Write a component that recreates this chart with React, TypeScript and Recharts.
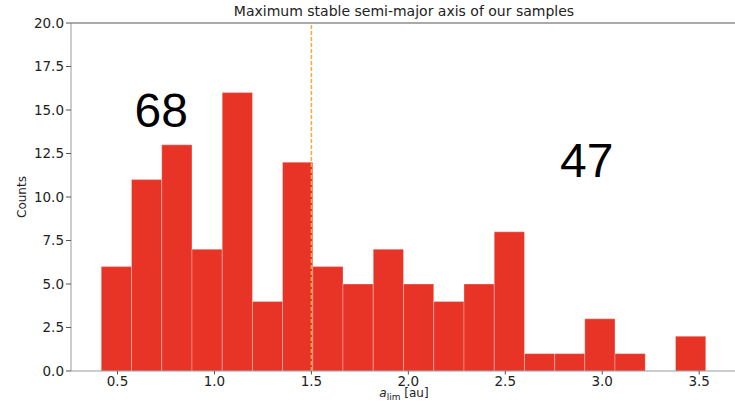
import React from "react";
import {
  ComposedChart,
  Line,
  XAxis,
  YAxis,
  ReferenceArea,
  ReferenceLine,
  ReferenceDot,
} from "recharts";

// histogram bin edges (au) and counts per bin
const binEdges = [
  0.416, 0.572, 0.728, 0.884, 1.04, 1.196, 1.351, 1.507, 1.663, 1.819, 1.975,
  2.131, 2.287, 2.443, 2.599, 2.755, 2.91, 3.066, 3.222, 3.378, 3.534,
];
const counts = [6, 11, 13, 7, 16, 4, 12, 6, 5, 7, 5, 4, 5, 8, 1, 1, 3, 1, 0, 2];

const xTicks = [0.5, 1.0, 1.5, 2.0, 2.5, 3.0, 3.5];
const yTicks = [0, 2.5, 5, 7.5, 10, 12.5, 15, 17.5, 20];

const cutoff = 1.5;
const annotations = [
  { x: 0.725, y: 14.03, text: "68" },
  { x: 2.92, y: 11.16, text: "47" },
];

const BAR = "#e83426";
const FONT = "DejaVu Sans, sans-serif";

const bins = counts.map((c, i) => ({
  x0: binEdges[i],
  x1: binEdges[i + 1],
  mid: (binEdges[i] + binEdges[i + 1]) / 2,
  count: c,
}));

export default function App() {
  return (
    <div
      style={{
        position: "absolute",
        left: 0,
        top: 0,
        width: 735,
        height: 409,
        overflow: "hidden",
        background: "#fff",
      }}
    >
      <div
        style={{
          position: "absolute",
          left: 0,
          top: 3,
          width: 808,
          textAlign: "center",
          fontFamily: FONT,
          fontSize: 14,
          color: "#222",
          lineHeight: "16px",
        }}
      >
        Maximum stable semi-major axis of our samples
      </div>
      <ComposedChart
        width={740}
        height={409}
        data={bins}
        margin={{ top: 23, right: 4, bottom: 0, left: 0 }}
      >
        <XAxis
          dataKey="mid"
          type="number"
          domain={[0.26, 3.69]}
          ticks={xTicks}
          tickFormatter={(v) => v.toFixed(1)}
          allowDataOverflow
          height={38}
          stroke="#999"
          tickLine={{ stroke: "#555" }}
          tickSize={3.5}
          tickMargin={2}
          tick={{ fill: "#222", fontSize: 13.5, fontFamily: FONT }}
          label={{
            content: () => (
              <text
                x={404}
                y={397}
                textAnchor="middle"
                fontFamily={FONT}
                fontSize={12}
                fill="#222"
              >
                <tspan fontStyle="italic">a</tspan>
                <tspan fontSize={9} dy={3}>lim</tspan>
                <tspan dy={-3}> [au]</tspan>
              </text>
            ),
          }}
        />
        <YAxis
          type="number"
          domain={[0, 20]}
          ticks={yTicks}
          tickFormatter={(v) => v.toFixed(1)}
          width={71}
          stroke="#999"
          tickLine={{ stroke: "#555" }}
          tickSize={5}
          tickMargin={2}
          tick={{ fill: "#222", fontSize: 13.5, fontFamily: FONT }}
          label={{
            content: () => (
              <text
                x={22}
                y={197}
                transform="rotate(-90 22 197)"
                textAnchor="middle"
                dominantBaseline="central"
                fontFamily={FONT}
                fontSize={12}
                fill="#222"
              >
                Counts
              </text>
            ),
          }}
        />
        <ReferenceLine y={20} stroke="#555" ifOverflow="visible" />
        {bins.map((b, i) =>
          b.count > 0 ? (
            <ReferenceArea
              key={i}
              x1={b.x0}
              x2={b.x1}
              y1={0}
              y2={b.count}
              fill={BAR}
              fillOpacity={1}
              stroke="#ffffff"
              strokeOpacity={0.3}
              strokeWidth={1}
              ifOverflow="visible"
            />
          ) : null
        )}
        <ReferenceLine
          x={cutoff}
          stroke="#f7a740"
          strokeDasharray="4 2"
          strokeWidth={1.5}
        />
        <Line
          dataKey="count"
          stroke="none"
          dot={false}
          activeDot={false}
          isAnimationActive={false}
        />
        {annotations.map((a) => (
          <ReferenceDot
            key={a.text}
            x={a.x}
            y={a.y}
            r={0}
            ifOverflow="visible"
            shape={(p: any) => (
              <text
                x={p.cx}
                y={p.cy}
                textAnchor="middle"
                fontFamily="Liberation Sans, Arial, sans-serif"
                fontSize={48}
                fill="#000"
              >
                {a.text}
              </text>
            )}
          />
        ))}
      </ComposedChart>
    </div>
  );
}
